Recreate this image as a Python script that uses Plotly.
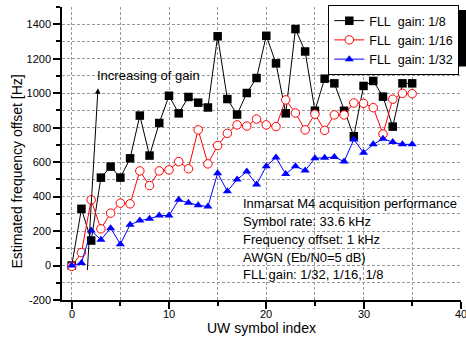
import plotly.graph_objects as go

symbol_index = list(range(36))
gain_1_8 = [0, 329, 145, 510, 574, 510, 622, 870, 638, 827, 985, 883, 978, 945, 917, 1330,
            966, 876, 1001, 1088, 1333, 1173, 883, 1372, 1242, 898, 1084, 1057, 898, 750,
            1042, 1071, 980, 806, 1057, 1057]
gain_1_16 = [-5, 75, 381, 213, 304, 362, 358, 549, 464, 549, 555, 603, 561, 787, 590, 696,
             767, 816, 809, 850, 816, 806, 961, 885, 787, 878, 784, 874, 874, 943,
             941, 916, 763, 965, 999, 997]
gain_1_32 = [0, 15, 203, 149, 217, 124, 236, 261, 271, 290, 290, 381, 364, 350, 342, 536,
             431, 499, 545, 470, 576, 627, 531, 576, 551, 623, 625, 630, 603, 731,
             655, 703, 735, 716, 703, 703]

series_names = ["FLL\u00a0 gain: 1/8", "FLL\u00a0 gain: 1/16", "FLL\u00a0 gain: 1/32"]
y_tickvals = [-200, 0, 200, 400, 600, 800, 1000, 1200, 1400]
y_ticktext = ["-200", "0", "200", "400", "600", "800", "1000", "1200", "1400"]
x_tickvals = [0, 10, 20, 30, 40]
x_ticktext = ["0", "10", "20", "30", "40"]
info_lines = ["Inmarsat M4 acquisition performance", "Symbol rate: 33.6 kHz",
              "Frequency offset: 1 kHz", "AWGN (Eb/N0=5 dB)", "FLL gain: 1/32, 1/16, 1/8"]
info_y = [358, 255, 149, 49, -54]

FONT = "Arial, Liberation Sans, sans-serif"

fig = go.Figure()
fig.add_trace(go.Scatter(x=symbol_index, y=gain_1_8, name=series_names[0], mode="lines+markers",
                         line=dict(color="black", width=1),
                         marker=dict(symbol="square", size=8.5, color="black")))
fig.add_trace(go.Scatter(x=symbol_index, y=gain_1_16, name=series_names[1], mode="lines+markers",
                         line=dict(color="#ff0000", width=1),
                         marker=dict(symbol="circle", size=8.5, color="white",
                                     line=dict(color="#ff0000", width=1))))
fig.add_trace(go.Scatter(x=symbol_index, y=gain_1_32, name=series_names[2], mode="lines+markers",
                         line=dict(color="#0000ff", width=1),
                         marker=dict(symbol="triangle-up", size=8, color="#0000ff")))

grid = dict(gridcolor="#9a9a9a", griddash="3px,2px", gridwidth=1)

fig.update_xaxes(range=[-1, 40.02], showline=True, linecolor="black", linewidth=1.5,
                 tickmode="array", tickvals=x_tickvals, showticklabels=False,
                 ticks="outside", ticklen=7,
                 tickcolor="black", tickwidth=1.5, showgrid=True, zeroline=False,
                 minor=dict(dtick=5, tick0=0, ticks="outside",
                            ticklen=4, tickcolor="black", showgrid=True, **grid),
                 **grid)
fig.update_yaxes(range=[-200, 1500], showline=True, linecolor="black", linewidth=1.5,
                 tickmode="array", tickvals=y_tickvals, ticktext=y_ticktext,
                 ticks="outside", ticklen=7, tickcolor="black", tickwidth=1.5,
                 showgrid=True, zeroline=False,
                 minor=dict(dtick=100, tick0=0, ticks="outside", ticklen=4, tickcolor="black",
                            showgrid=True, **grid),
                 tickfont=dict(family=FONT, size=11, color="black"), **grid)

annotations = [
    dict(text="UW symbol index", xref="paper", yref="paper", x=0.5, y=0.0,
         yshift=-28, showarrow=False, yanchor="middle",
         font=dict(family=FONT, size=14, color="black")),
    dict(text="Estimated frequency offset [Hz]", xref="paper", yref="paper",
         x=-0.113, y=0.438, textangle=-90, showarrow=False, xanchor="center",
         yanchor="middle", font=dict(family=FONT, size=14, color="black")),
    dict(text="", x=2.7, y=1028, ax=1.6, ay=-35, axref="x", ayref="y",
         xref="x", yref="y", showarrow=True, arrowhead=2, arrowsize=1.1,
         arrowwidth=1, arrowcolor="black"),
    dict(text="Increasing of gain", x=2.4, y=1101, xanchor="left", yanchor="middle",
         showarrow=False, font=dict(family=FONT, size=13, color="black")),
]
for v, t in zip(x_tickvals, x_ticktext):
    annotations.append(dict(text=t, x=v, xref="x", yref="paper", y=0.0, yshift=-14,
                            xanchor="center", yanchor="middle", showarrow=False,
                            font=dict(family=FONT, size=11, color="black")))
for line, yv in zip(info_lines, info_y):
    annotations.append(dict(text=line, x=17.43, y=yv, xanchor="left", yanchor="middle",
                            showarrow=False, font=dict(family=FONT, size=13, color="black")))

fig.update_layout(
    width=466, height=345,
    margin=dict(l=62, r=5, t=7, b=45, pad=0, autoexpand=False),
    paper_bgcolor="white", plot_bgcolor="white",
    font=dict(family=FONT, size=12, color="black"),
    annotations=annotations,
    legend=dict(x=0.9957, y=1.0068, xanchor="right", yanchor="top",
                bgcolor="white", bordercolor="black", borderwidth=1,
                font=dict(family=FONT, size=12.5, color="black"),
                tracegroupgap=0, itemwidth=30),
    shapes=[dict(type="rect", xref="paper", yref="paper", x0=0.675, x1=1.013,
                 y0=0.797, y1=0.99, fillcolor="black", line=dict(width=0),
                 layer="above")],
)

fig.write_html("out.html")
